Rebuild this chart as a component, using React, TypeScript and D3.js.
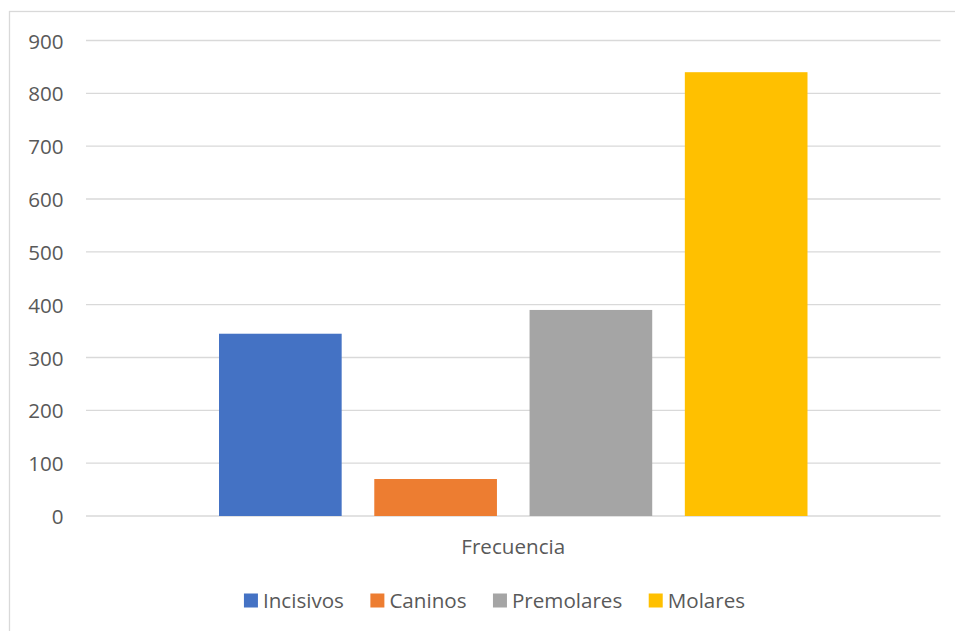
import React from "react";
import * as d3 from "d3";

const categories = ["Frecuencia"];
const seriesNames = ["Incisivos", "Caninos", "Premolares", "Molares"];
const seriesValues = [345, 70, 390, 840];
const seriesColors = ["#4472C4", "#ED7D31", "#A5A5A5", "#FFC000"];
const yTicks = [0, 100, 200, 300, 400, 500, 600, 700, 800, 900];

const W = 955;
const H = 631;
const FONT = "Open Sans";
const FS = 20.6;
const TXT = "#595959";
const GRID = "#d9d9d9";

const plot = { left: 86, right: 940.5, top: 40.5, bottom: 516 };

function measure(text: string): number {
  const c = document.createElement("canvas").getContext("2d")!;
  c.font = `${FS}px "${FONT}"`;
  return c.measureText(text).width;
}

export default function App() {
  const x0 = d3.scaleBand<string>().domain(categories).range([plot.left, plot.right]).paddingInner(0).paddingOuter(0.226);
  const x1 = d3.scaleBand<string>().domain(seriesNames).range([0, x0.bandwidth()]).paddingInner(0.21).paddingOuter(0);
  const y = d3.scaleLinear().domain([0, 900]).range([plot.bottom, plot.top]);

  // legend layout
  const sq = 14;
  const gapText = 5;
  const gapItem = 26.5;
  const widths = seriesNames.map((s) => sq + gapText + measure(s));
  const total = d3.sum(widths) + gapItem * (seriesNames.length - 1);
  const legendCenter = 494.5;
  let cursor = legendCenter - total / 2;
  const legendItems = seriesNames.map((s, i) => {
    const it = { name: s, x: cursor, color: seriesColors[i] };
    cursor += widths[i] + gapItem;
    return it;
  });

  return (
    <svg width={W} height={H} style={{ position: "absolute", left: 0, top: 0, background: "#fff" }} fontFamily={FONT}>
      <rect x={9.5} y={11.5} width={980} height={640} fill="#fff" stroke={GRID} strokeWidth={1.3} />
      {yTicks.map((t) => (
        <g key={t}>
          <line x1={plot.left} x2={plot.right} y1={y(t)} y2={y(t)} stroke={GRID} strokeWidth={1.4} />
          <text x={63.5} y={y(t)} dy={8} textAnchor="end" fontSize={FS} fill={TXT}>{t}</text>
        </g>
      ))}
      {categories.map((c) => (
        <g key={c} transform={`translate(${x0(c)},0)`}>
          {seriesNames.map((s, i) => (
            <rect key={s} x={x1(s)} y={y(seriesValues[i])} width={x1.bandwidth()} height={y(0) - y(seriesValues[i])} fill={seriesColors[i]} />
          ))}
          <text x={x0.bandwidth() / 2} y={553.5} textAnchor="middle" fontSize={FS} fill={TXT}>{c}</text>
        </g>
      ))}
      {legendItems.map((it) => (
        <g key={it.name} transform={`translate(${it.x},0)`}>
          <rect x={0} y={593.5} width={sq} height={sq} fill={it.color} />
          <text x={sq + gapText} y={607.5} fontSize={FS} fill={TXT}>{it.name}</text>
        </g>
      ))}
    </svg>
  );
}
